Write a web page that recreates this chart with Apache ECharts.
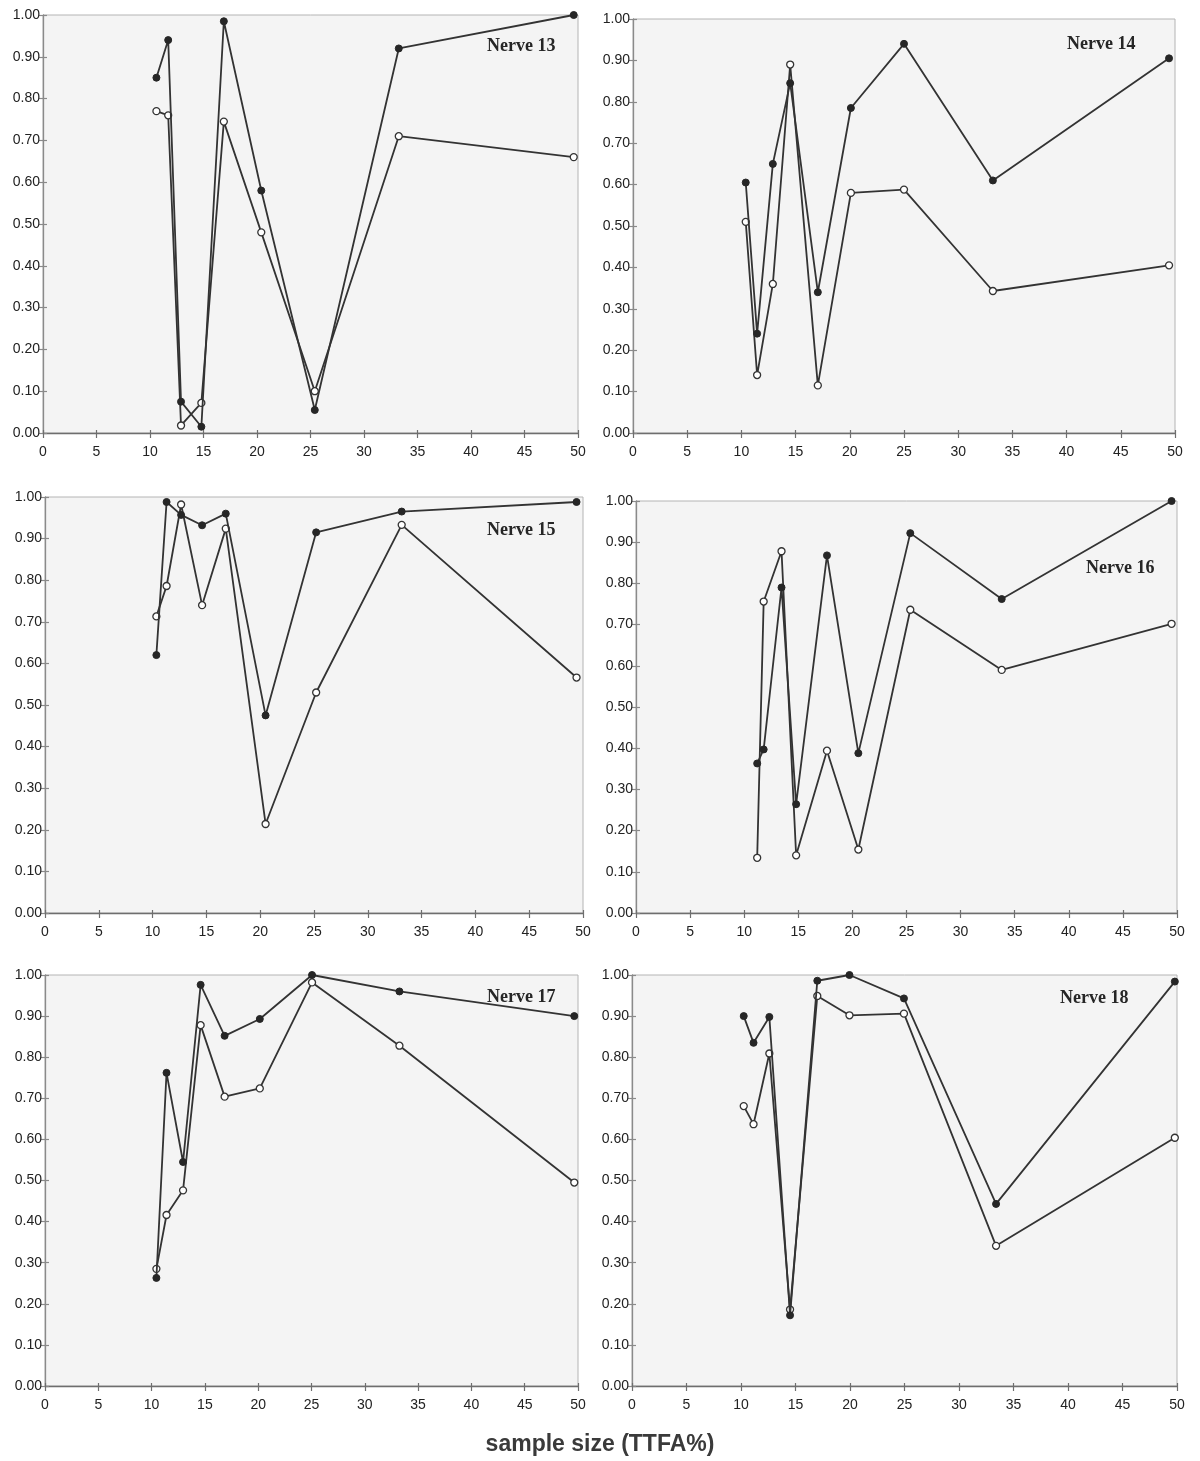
<!DOCTYPE html>
<html>
<head>
<meta charset="utf-8">
<title>sample size (TTFA%)</title>
<script src="https://cdn.jsdelivr.net/npm/echarts@6/dist/echarts.min.js"></script>
<style>
  html, body { margin: 0; padding: 0; background: #ffffff; }
  #chart { width: 1200px; height: 1461px; }
</style>
</head>
<body>
<div id="chart"></div>
<script>
// Axis ticks shared by all six panels
const xTicks = [0, 5, 10, 15, 20, 25, 30, 35, 40, 45, 50];
const yTicks = [0, 0.1, 0.2, 0.3, 0.4, 0.5, 0.6, 0.7, 0.8, 0.9, 1.0];

// Nerve 13
const nerve13X      = [10.6, 11.7, 12.9, 14.8, 16.9, 20.4, 25.4, 33.25, 49.6];
const nerve13Solid  = [0.85, 0.94, 0.075, 0.015, 0.985, 0.58, 0.055, 0.92, 1.00];
const nerve13Hollow = [0.77, 0.76, 0.018, 0.072, 0.745, 0.48, 0.10, 0.71, 0.66];

// Nerve 14
const nerve14X      = [10.4, 11.45, 12.9, 14.5, 17.05, 20.1, 25.0, 33.2, 49.45];
const nerve14Solid  = [0.605, 0.24, 0.65, 0.845, 0.34, 0.785, 0.94, 0.61, 0.905];
const nerve14Hollow = [0.51, 0.14, 0.36, 0.89, 0.115, 0.58, 0.588, 0.343, 0.405];

// Nerve 15
const nerve15X      = [10.35, 11.3, 12.65, 14.6, 16.8, 20.5, 25.2, 33.15, 49.4];
const nerve15Solid  = [0.62, 0.988, 0.957, 0.932, 0.96, 0.475, 0.915, 0.965, 0.988];
const nerve15Hollow = [0.713, 0.786, 0.982, 0.74, 0.924, 0.214, 0.53, 0.933, 0.566];

// Nerve 16
const nerve16X      = [11.2, 11.8, 13.45, 14.8, 17.65, 20.55, 25.35, 33.8, 49.5];
const nerve16Solid  = [0.363, 0.397, 0.79, 0.264, 0.868, 0.388, 0.922, 0.762, 1.00];
const nerve16Hollow = [0.134, 0.756, 0.878, 0.14, 0.394, 0.154, 0.736, 0.59, 0.702];

// Nerve 17
const nerve17X      = [10.45, 11.4, 12.95, 14.6, 16.85, 20.15, 25.05, 33.25, 49.65];
const nerve17Solid  = [0.263, 0.762, 0.545, 0.976, 0.852, 0.893, 1.00, 0.96, 0.90];
const nerve17Hollow = [0.285, 0.416, 0.476, 0.878, 0.704, 0.724, 0.982, 0.828, 0.495];

// Nerve 18
const nerve18X      = [10.25, 11.15, 12.6, 14.5, 17.0, 19.95, 24.95, 33.4, 49.8];
const nerve18Solid  = [0.90, 0.835, 0.898, 0.172, 0.986, 1.00, 0.943, 0.443, 0.984];
const nerve18Hollow = [0.681, 0.637, 0.809, 0.186, 0.949, 0.902, 0.906, 0.341, 0.604];

const panelNames = ['Nerve 13', 'Nerve 14', 'Nerve 15', 'Nerve 16', 'Nerve 17', 'Nerve 18'];
const panelX      = [nerve13X, nerve14X, nerve15X, nerve16X, nerve17X, nerve18X];
const panelSolid  = [nerve13Solid, nerve14Solid, nerve15Solid, nerve16Solid, nerve17Solid, nerve18Solid];
const panelHollow = [nerve13Hollow, nerve14Hollow, nerve15Hollow, nerve16Hollow, nerve17Hollow, nerve18Hollow];

// Plot rectangles (left, top, width, height) for the 3 x 2 layout
const grids = [
  { left: 43,  top: 15,  width: 535, height: 418 },
  { left: 633, top: 19,  width: 542, height: 414 },
  { left: 45,  top: 497, width: 538, height: 416 },
  { left: 636, top: 501, width: 541, height: 412 },
  { left: 45,  top: 975, width: 533, height: 411 },
  { left: 632, top: 975, width: 545, height: 411 }
];

// Panel name positions
const namePos = [
  { left: 482, top: 32 },
  { left: 1062, top: 30 },
  { left: 482, top: 516 },
  { left: 1081, top: 554 },
  { left: 482, top: 983 },
  { left: 1055, top: 984 }
];

const lineColor = '#333333';
const axisColor = '#6e6e6e';
const labelFont = 'Liberation Sans Narrow, Arial Narrow, Liberation Sans, Arial, sans-serif';

const option = {
  backgroundColor: '#ffffff',
  animation: false,
  title: [],
  grid: [],
  xAxis: [],
  yAxis: [],
  series: []
};

grids.forEach((g, i) => {
  option.grid.push({
    left: g.left, top: g.top, width: g.width, height: g.height,
    show: true,
    backgroundColor: '#f4f4f4',
    borderColor: '#b4b4b4',
    borderWidth: 1
  });

  const xRange = {
    type: 'value',
    gridIndex: i,
    position: 'bottom',
    min: xTicks[0],
    max: xTicks[xTicks.length - 1],
    interval: xTicks[1] - xTicks[0],
    splitLine: { show: false }
  };
  const yRange = {
    type: 'value',
    gridIndex: i,
    position: 'left',
    min: yTicks[0],
    max: yTicks[yTicks.length - 1],
    interval: 0.1,
    splitLine: { show: false }
  };

  // main axes: line, outer ticks, labels
  option.xAxis.push(Object.assign({}, xRange, {
    axisLine: { show: true, onZero: false, lineStyle: { color: axisColor, width: 1.3 } },
    axisTick: { show: true, length: 5, lineStyle: { color: axisColor, width: 1.2 } },
    axisLabel: { color: '#222', fontFamily: labelFont, fontSize: 14, margin: 12 }
  }));
  option.yAxis.push(Object.assign({}, yRange, {
    axisLine: { show: true, onZero: false, lineStyle: { color: '#8a8a8a', width: 1.3 } },
    axisTick: { show: true, length: 4, lineStyle: { color: '#8a8a8a', width: 1.2 } },
    axisLabel: {
      color: '#222', fontFamily: labelFont, fontSize: 14, margin: 3,
      formatter: v => v.toFixed(2)
    }
  }));
  // companion axes: inner half of the crossing ticks
  option.xAxis.push(Object.assign({}, xRange, {
    offset: 0,
    axisLine: { show: false, onZero: false },
    axisTick: { show: true, inside: true, length: 3, lineStyle: { color: axisColor, width: 1.2 } },
    axisLabel: { show: false }
  }));
  option.yAxis.push(Object.assign({}, yRange, {
    offset: 0,
    axisLine: { show: false, onZero: false },
    axisTick: { show: true, inside: true, length: 4, lineStyle: { color: '#8a8a8a', width: 1.2 } },
    axisLabel: { show: false }
  }));

  const xs = panelX[i];
  option.series.push({
    type: 'line',
    xAxisIndex: 2 * i, yAxisIndex: 2 * i,
    data: xs.map((x, k) => [x, panelHollow[i][k]]),
    symbol: 'circle',
    symbolSize: 7,
    lineStyle: { color: lineColor, width: 1.8 },
    itemStyle: { color: '#ffffff', borderColor: lineColor, borderWidth: 1.3 },
    z: 2
  });
  option.series.push({
    type: 'line',
    xAxisIndex: 2 * i, yAxisIndex: 2 * i,
    data: xs.map((x, k) => [x, panelSolid[i][k]]),
    symbol: 'circle',
    symbolSize: 7,
    lineStyle: { color: lineColor, width: 1.8 },
    itemStyle: { color: '#262626', borderColor: '#262626', borderWidth: 1 },
    z: 3
  });

  option.title.push({
    text: panelNames[i],
    left: namePos[i].left,
    top: namePos[i].top,
    textStyle: {
      fontFamily: 'Liberation Serif, Times New Roman, serif',
      fontWeight: 'bold',
      fontSize: 18,
      color: '#262626'
    }
  });
});

option.title.push({
  text: 'sample size (TTFA%)',
  left: 'center',
  top: 1428,
  textStyle: {
    fontFamily: 'Liberation Sans, Arial, sans-serif',
    fontWeight: 'bold',
    fontSize: 23,
    color: '#3a3a3a'
  }
});

const chart = echarts.init(document.getElementById('chart'), null, { renderer: 'canvas' });
chart.setOption(option);
</script>
</body>
</html>
